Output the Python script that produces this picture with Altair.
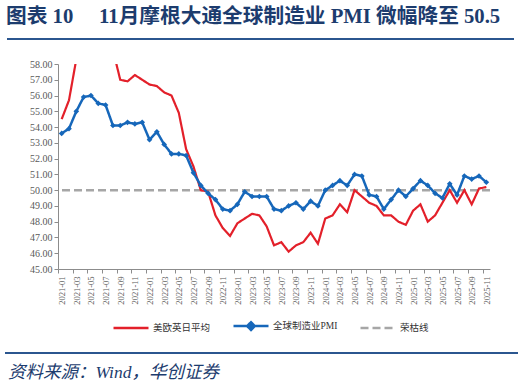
import altair as alt
import pandas as pd

# ---------------- data ----------------
years = ["2021", "2022", "2023", "2024", "2025"]
months = [f"{y}-{m:02d}" for y in years for m in range(1, 13)][:59]  # 2021-01 .. 2025-11

global_pmi = [
    53.6, 53.9, 55.0, 55.9, 56.0, 55.5, 55.4, 54.1, 54.1, 54.3, 54.2, 54.3,
    53.2, 53.7, 52.9, 52.3, 52.3, 52.2, 51.1, 50.3, 49.8, 49.4, 48.8, 48.7,
    49.1, 49.9, 49.6, 49.6, 49.6, 48.8, 48.7, 49.0, 49.2, 48.8, 49.3, 49.0,
    50.0, 50.3, 50.6, 50.3, 51.0, 50.9, 49.7, 49.6, 48.8, 49.4, 50.0, 49.6,
    50.1, 50.6, 50.3, 49.8, 49.5, 50.4, 49.7, 50.9, 50.7, 50.9, 50.5,
]
avg_pmi = [
    54.5, 55.7, 58.3, 59.5, 61.0, 60.5, 59.9, 58.9, 57.0, 56.9, 57.3, 57.0,
    56.7, 56.6, 56.2, 56.0, 54.9, 52.6, 51.5, 50.0, 49.9, 48.4, 47.6, 47.1,
    47.9, 48.2, 48.5, 48.4, 47.7, 46.5, 46.7, 46.1, 46.5, 46.7, 47.3, 46.6,
    48.2, 48.4, 49.1, 48.6, 50.0, 49.6, 49.2, 49.0, 48.4, 48.4, 48.0, 47.8,
    48.7, 49.1, 48.0, 48.4, 49.2, 50.0, 49.2, 50.0, 49.1, 50.1, 50.2,
]
threshold = [50.0]

SER_RED = "美欧英日平均"
SER_BLUE = "全球制造业PMI"
SER_LINE = "荣枯线"
series_names = [SER_RED, SER_BLUE, SER_LINE]

title_text = "图表 10\u3000\u00a011月摩根大通全球制造业 PMI 微幅降至 50.5"
source_text = "资料来源：Wind，华创证券"

# ---------------- style ----------------
RED = "#E3202A"
BLUE = "#1667BA"
GRAY = "#A6A6A6"
NAVY = "#1C3C6E"
LINE_NAVY = "#2B568F"
LATIN_CJK = "Liberation Serif, Noto Sans CJK SC"

W, H = 432, 205
step = W / len(months)

df = pd.DataFrame(
    {
        "month": months * 2,
        "series": [SER_RED] * len(months) + [SER_BLUE] * len(months),
        "value": avg_pmi + global_pmi,
    }
)
df_thr = pd.DataFrame({"value": threshold, "series": [SER_LINE]})

x_enc = alt.X(
    "month:O",
    sort=months,
    scale=alt.Scale(type="point", padding=0.5),
    title=None,
    axis=alt.Axis(
        values=months[::2],
        labelAngle=270,
        labelFont="Liberation Serif",
        labelFontSize=8.5,
        labelColor="#595959",
        labelPadding=3,
        tickSize=4,
        tickOffset=-step / 2,
        labelOffset=step / 2,
        tickColor="#8C8C8C",
        domainColor="#8C8C8C",
        grid=False,
    ),
)
y_enc = alt.Y(
    "value:Q",
    scale=alt.Scale(domain=[45, 58], nice=False, zero=False),
    title=None,
    axis=alt.Axis(
        values=list(range(45, 59)),
        format=".2f",
        labelFont="Liberation Serif",
        labelFontSize=10,
        labelColor="#595959",
        labelPadding=2,
        tickSize=4,
        tickColor="#8C8C8C",
        domainColor="#8C8C8C",
        grid=False,
    ),
)

color_enc = alt.Color(
    "series:N",
    scale=alt.Scale(domain=series_names, range=[RED, BLUE, GRAY]),
    legend=alt.Legend(
        title=None,
        orient="none",
        legendX=54,
        legendY=243,
        direction="horizontal",
        columns=3,
        columnPadding=17,
        padding=0,
        labelOffset=3,
        labelFont=LATIN_CJK,
        labelFontSize=9.5,
        labelColor="#333333",
        symbolSize=1225,
        symbolStrokeWidth=2.5,
        symbolType={
            "expr": "datum.value === '全球制造业PMI' ? 'M-1,0L1,0M0,-0.22L0.22,0L0,0.22L-0.22,0Z' : 'stroke'"
        },
        symbolFillColor={
            "expr": "datum.value === '全球制造业PMI' ? '#1667BA' : 'transparent'"
        },
    ),
)
dash_enc = alt.StrokeDash(
    "series:N",
    scale=alt.Scale(domain=series_names, range=[[1, 0], [1, 0], [8, 4]]),
    legend=None,
)

rule50 = (
    alt.Chart(df_thr)
    .mark_rule(strokeWidth=2.5)
    .encode(y=y_enc, color=color_enc, strokeDash=dash_enc)
)

red_line = (
    alt.Chart(df)
    .transform_filter(alt.datum.series == SER_RED)
    .mark_line(strokeWidth=2.2, clip=True)
    .encode(x=x_enc, y=y_enc, color=color_enc, strokeDash=dash_enc)
)
blue_line = (
    alt.Chart(df)
    .transform_filter(alt.datum.series == SER_BLUE)
    .mark_line(strokeWidth=2.5, clip=True)
    .encode(x=x_enc, y=y_enc, color=color_enc, strokeDash=dash_enc)
)
blue_pts = (
    alt.Chart(df)
    .transform_filter(alt.datum.series == SER_BLUE)
    .mark_point(shape="diamond", filled=True, size=32, opacity=1, color=BLUE)
    .encode(x=x_enc, y=y_enc)
)

title_mark = (
    alt.Chart(pd.DataFrame({"t": [title_text]}))
    .mark_text(
        align="left", baseline="middle", font=LATIN_CJK, fontSize=20.7,
        fontWeight="bold", color=NAVY,
    )
    .encode(text="t:N", x=alt.value(-52), y=alt.value(-47))
)
source_mark = (
    alt.Chart(pd.DataFrame({"t": [source_text]}))
    .mark_text(
        align="left", baseline="middle", font=LATIN_CJK, fontSize=17.5,
        fontStyle="italic", color=NAVY,
    )
    .encode(text="t:N", x=alt.value(-50), y=alt.value(309))
)
top_rule = alt.Chart(pd.DataFrame({"a": [0]})).mark_rule(
    color=LINE_NAVY, strokeWidth=2
).encode(x=alt.value(-51), x2=alt.value(456), y=alt.value(-25))
bottom_rule = alt.Chart(pd.DataFrame({"a": [0]})).mark_rule(
    color=LINE_NAVY, strokeWidth=2
).encode(x=alt.value(-53), x2=alt.value(460), y=alt.value(289))

chart = (
    alt.layer(rule50, red_line, blue_line, blue_pts, title_mark, source_mark, top_rule, bottom_rule)
    .properties(
        width=W,
        height=H,
        autosize=alt.AutoSizeParams(type="none"),
        padding={"left": 58, "top": 64, "right": 524 - 58 - W, "bottom": 387 - 64 - H},
        background="white",
    )
    .configure_view(stroke=None)
)

chart.save("out.html", embed_options={"renderer": "svg", "actions": False})
